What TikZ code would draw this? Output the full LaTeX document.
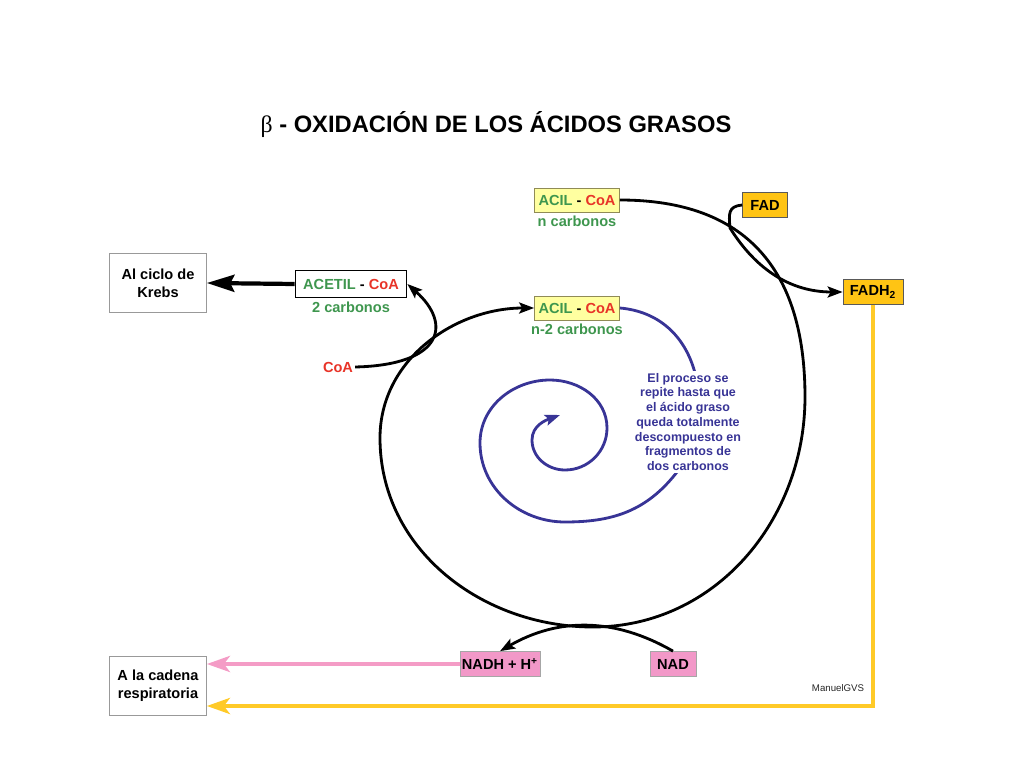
\documentclass[tikz,border=0pt]{standalone}
\usepackage{fontspec}
\setmainfont{Liberation Sans}
\newfontfamily\grkfont{Liberation Serif}
\usetikzlibrary{arrows.meta, positioning, calc}
\definecolor{cGrn}{RGB}{62,150,78}
\definecolor{cRd}{RGB}{232,52,40}
\definecolor{cAcil}{RGB}{255,255,160}
\definecolor{cFad}{RGB}{255,196,20}
\definecolor{cPink}{RGB}{242,152,200}
\definecolor{cPinkLn}{RGB}{244,156,198}
\definecolor{cGold}{RGB}{255,202,40}
\definecolor{cBlue}{RGB}{56,52,150}
\tikzset{
	txt/.style      ={font=\bfseries\fontsize{8.3}{10.2}\selectfont, align=center, inner sep=1pt},
	whitebox/.style ={rectangle, draw=gray!80, fill=white, minimum width=1.94cm, minimum height=1.17cm, txt},
	acetbox/.style  ={rectangle, draw=black, line width=1pt, fill=white, minimum width=2.22cm, minimum height=0.54cm, txt},
	acilbox/.style  ={rectangle, draw=gray!60!olive, fill=cAcil, minimum width=1.7cm, minimum height=0.48cm, txt},
	fadbox/.style   ={rectangle, draw=gray!70!black, fill=cFad, minimum width=0.9cm, minimum height=0.5cm, txt},
	pinkbox/.style  ={rectangle, draw=gray!70, fill=cPink, minimum width=0.92cm, minimum height=0.5cm, txt},
	carbtxt/.style  ={txt, text=cGrn},
	flow/.style     ={-{Stealth[length=3mm, width=2.2mm, inset=0.6mm]}, line width=1.6pt},
	bigflow/.style  ={-{Stealth[length=5.5mm, width=3.4mm, inset=0.8mm]}, line width=2.4pt},
	outflow/.style  ={-{Stealth[length=4.6mm, width=3.2mm, inset=1.2mm]}, line width=2.4pt},
}

\begin{document}
\begin{tikzpicture}[x=0.02cm, y=0.02cm]
	\useasboundingbox (0,0) rectangle (1024,768);
	\node[font=\bfseries\fontsize{13.5}{16}\selectfont] (title) at (496,643) {{\grkfont\mdseries β} - OXIDACIÓN DE LOS ÁCIDOS GRASOS};
	% left side
	\node[whitebox] (krebs) at (158,485) {Al ciclo de\\Krebs};
	\node[acetbox] (acetil) at (351,484) {\textcolor{cGrn}{ACETIL} - \textcolor{cRd}{CoA}};
	\node[carbtxt, below=1pt of acetil] (carb2) {2 carbonos};
	\node[txt, text=cRd] (coa) at (338,401) {CoA};
	% acyl-CoA boxes
	\node[acilbox] (aciln) at (577,568) {\textcolor{cGrn}{ACIL} - \textcolor{cRd}{CoA}};
	\node[carbtxt, below=1pt of aciln] (ncarb) {n carbonos};
	\node[acilbox] (aciln2) at (577,460) {\textcolor{cGrn}{ACIL} - \textcolor{cRd}{CoA}};
	\node[carbtxt, below=1pt of aciln2] (ncarb2) {n-2 carbonos};
	% cofactors
	\node[fadbox] (fad) at (765,563) {FAD};
	\node[fadbox, minimum width=1.2cm] (fadh) at (873,476) {FADH\textsubscript{2}};
	\node[pinkbox, minimum width=1.6cm] (nadh) at (500,104) {NADH + H\textsuperscript{+}};
	\node[pinkbox] (nad) at (673,104) {NAD};
	\node[whitebox] (cadena) at (158,82) {A la cadena\\respiratoria};
	\node[font=\fontsize{5.5}{6}\selectfont, text=gray!30!black] (firma) at (838,80) {ManuelGVS};

	% repeating spiral
	\coordinate (tip) at (560,353);
	\draw[flow, cBlue] (aciln2.east) to[out=-5, in=105] (695,395) to[out=-75, in=50] (673,291)
		to[out=-130, in=0] (565,246) to[out=180, in=-90] (480,325) to[out=90, in=180] (550,388)
		to[out=0, in=90] (607,340) to[out=-90, in=0] (565,298) to[out=180, in=-90] (532,328)
		to[out=90, in=200] (tip);
	\node[txt, fill=white, text=cBlue, font=\bfseries\fontsize{7.1}{8.4}\selectfont] (repite) at (688,346) {El proceso se\\repite hasta que\\el ácido graso\\queda totalmente\\descompuesto en\\fragmentos de\\dos carbonos};

	% main cycle
	\draw[flow] (aciln.east) to[out=0, in=90, looseness=1.2] (805,371) to[out=-90, in=0] (593,141)
		to[out=180, in=-90] (380,330) to[out=90, in=180] (aciln2.west);
	\draw[flow] (coa.east) .. controls +(88,2) and +(45,-40) .. (acetil.east);
	\draw[flow] (fad.west) to[out=185, in=95, looseness=1.4] (730,540) to[out=-58, in=180] (fadh.west);
	\draw[flow] (nad.north) to[out=150, in=30] (nadh.north);
	\draw[bigflow] (acetil.west) -- (krebs.east);

	% to the respiratory chain
	\draw[outflow, cPinkLn] (nadh.west) -- (nadh.west -| cadena.east);
	\draw[outflow, cGold] (fadh.south) |- ([yshift=-0.4cm]cadena.east);
\end{tikzpicture}
\end{document}
